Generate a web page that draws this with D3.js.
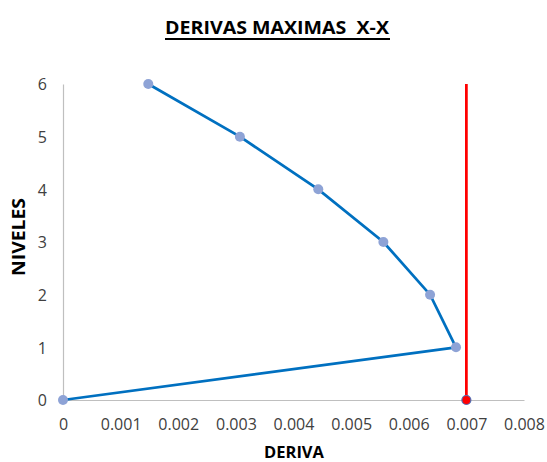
<!DOCTYPE html>
<html>
<head>
<meta charset="utf-8">
<script src="https://cdn.jsdelivr.net/npm/d3@7"></script>
<style>
  html, body { margin: 0; padding: 0; background: #fff; }
  svg { display: block; font-family: "Open Sans", sans-serif; }
</style>
</head>
<body>
<svg id="chart" width="547" height="462"></svg>
<script>
// Maximum drift per level (X-X direction)
const niveles = [0, 1, 2, 3, 4, 5, 6];
const derivas = [0, 0.00682, 0.00637, 0.00556, 0.00443, 0.00307, 0.00148];
// Allowable drift limit
const limite = 0.007;
const limiteNiveles = [0, 6];
const xTicks = [0, 0.001, 0.002, 0.003, 0.004, 0.005, 0.006, 0.007, 0.008];
const yTicks = [0, 1, 2, 3, 4, 5, 6];

const svg = d3.select("#chart");
const x = d3.scaleLinear().domain([0, 0.008]).range([63, 524]);
const y = d3.scaleLinear().domain([0, 6]).range([400, 84]);

// Title with underline
svg.append("text")
  .attr("x", 277).attr("y", 34)
  .attr("text-anchor", "middle")
  .attr("font-size", 18).attr("font-weight", "bold")
  .attr("fill", "#000")
  .attr("textLength", 224).attr("lengthAdjust", "spacingAndGlyphs")
  .style("white-space", "pre")
  .text("DERIVAS MAXIMAS  X-X");
svg.append("line")
  .attr("x1", 165).attr("x2", 390).attr("y1", 39).attr("y2", 39)
  .attr("stroke", "#000").attr("stroke-width", 1.8);

// Axes
const xAxis = d3.axisBottom(x).tickValues(xTicks)
  .tickFormat(d => d === 0 ? "0" : d3.format(".3f")(d)).tickSize(0).tickPadding(19);
const yAxis = d3.axisLeft(y).tickValues(yTicks).tickFormat(d3.format("d")).tickSize(0).tickPadding(16);

const gx = svg.append("g").attr("transform", `translate(0,${y(0)})`).call(xAxis);
const gy = svg.append("g").attr("transform", `translate(${x(0)},0)`).call(yAxis);
[gx, gy].forEach(g => {
  g.select(".domain").attr("stroke", "#BFBFBF").attr("stroke-width", 1.2);
  g.selectAll("text").attr("font-size", 16).attr("fill", "#404040")
    .attr("font-family", "'Open Sans', sans-serif");
});
gy.selectAll("text").attr("dy", "0.36em");

// Axis titles
svg.append("text")
  .attr("x", 294).attr("y", 457.5)
  .attr("text-anchor", "middle")
  .attr("font-size", 16.5).attr("font-weight", "bold").attr("fill", "#000")
  .text("DERIVA");
svg.append("text")
  .attr("transform", `translate(25,237) rotate(-90)`)
  .attr("text-anchor", "middle")
  .attr("font-size", 17).attr("font-weight", "bold").attr("fill", "#000")
  .attr("textLength", 78).attr("lengthAdjust", "spacingAndGlyphs")
  .text("NIVELES");

// Drift series
const pts = niveles.map((n, i) => ({ n, d: derivas[i] }));
svg.append("path")
  .datum(pts)
  .attr("fill", "none").attr("stroke", "#0070C0").attr("stroke-width", 2.75)
  .attr("d", d3.line().x(p => x(p.d)).y(p => y(p.n)));
svg.selectAll("circle.pt").data(pts).enter().append("circle")
  .attr("class", "pt")
  .attr("cx", p => x(p.d)).attr("cy", p => y(p.n)).attr("r", 5)
  .attr("fill", "#8EA3D6");

// Limit line
const lim = limiteNiveles.map(n => ({ n, d: limite }));
svg.append("path")
  .datum(lim)
  .attr("fill", "none").attr("stroke", "#FF0000").attr("stroke-width", 2.75)
  .attr("d", d3.line().x(p => x(p.d)).y(p => y(p.n)));
svg.append("circle")
  .attr("cx", x(limite)).attr("cy", y(0)).attr("r", 4.5)
  .attr("fill", "#FF0000").attr("stroke", "#4F6EB5").attr("stroke-width", 1.2);
</script>
</body>
</html>
